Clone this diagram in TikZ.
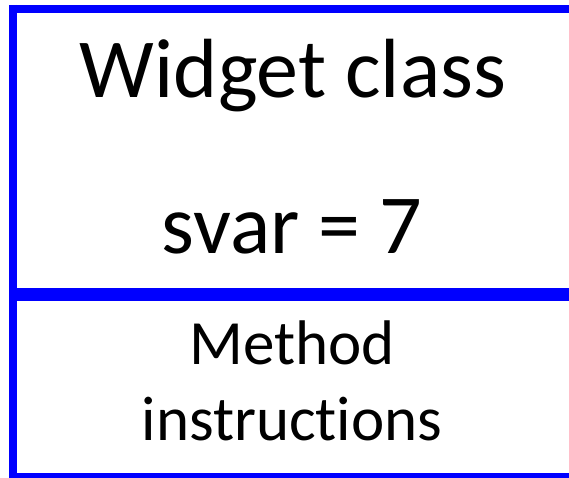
\documentclass[tikz,border=0pt]{standalone}
\usepackage{fontspec}
\setmainfont[RawFeature={-liga;-clig;-dlig}]{Carlito}
\usepackage{xcolor}
\definecolor{FrameBlue}{RGB}{0, 0, 255}
\definecolor{InkBlack}{RGB}{0, 0, 0}
\usetikzlibrary{
    positioning
    }

\begin{document}
\begin{tikzpicture}[x=1pt, y=-1pt]

    \useasboundingbox (0,0) rectangle (569,478);
    \clip (0,0) rectangle (569,478);

    %Frame
    \draw[FrameBlue, line width=8pt] (13,9) -- (640,9);
    \draw[FrameBlue, line width=8pt] (13,5) -- (13,478);
    \draw[FrameBlue, line width=8pt] (13,477) -- (640,477);
    \draw[FrameBlue, line width=13pt] (9,294.5) -- (640,294.5);

    %Class
    \node[text=InkBlack, anchor=base, inner sep=0pt, font=\fontsize{84}{100}\selectfont] (title) at (293,98){Widget class};
    \node[text=InkBlack, anchor=base, inner sep=0pt, font=\fontsize{84}{100}\selectfont] (svar) at (292,253){svar = 7};

    %Method
    \node[text=InkBlack, anchor=base, inner sep=0pt, font=\fontsize{63}{76}\selectfont] (method) at (292,364){Method};
    \node[text=InkBlack, anchor=base, inner sep=0pt, font=\fontsize{63}{76}\selectfont] (instr) at (292,440){instructions};

\end{tikzpicture}
\end{document}
